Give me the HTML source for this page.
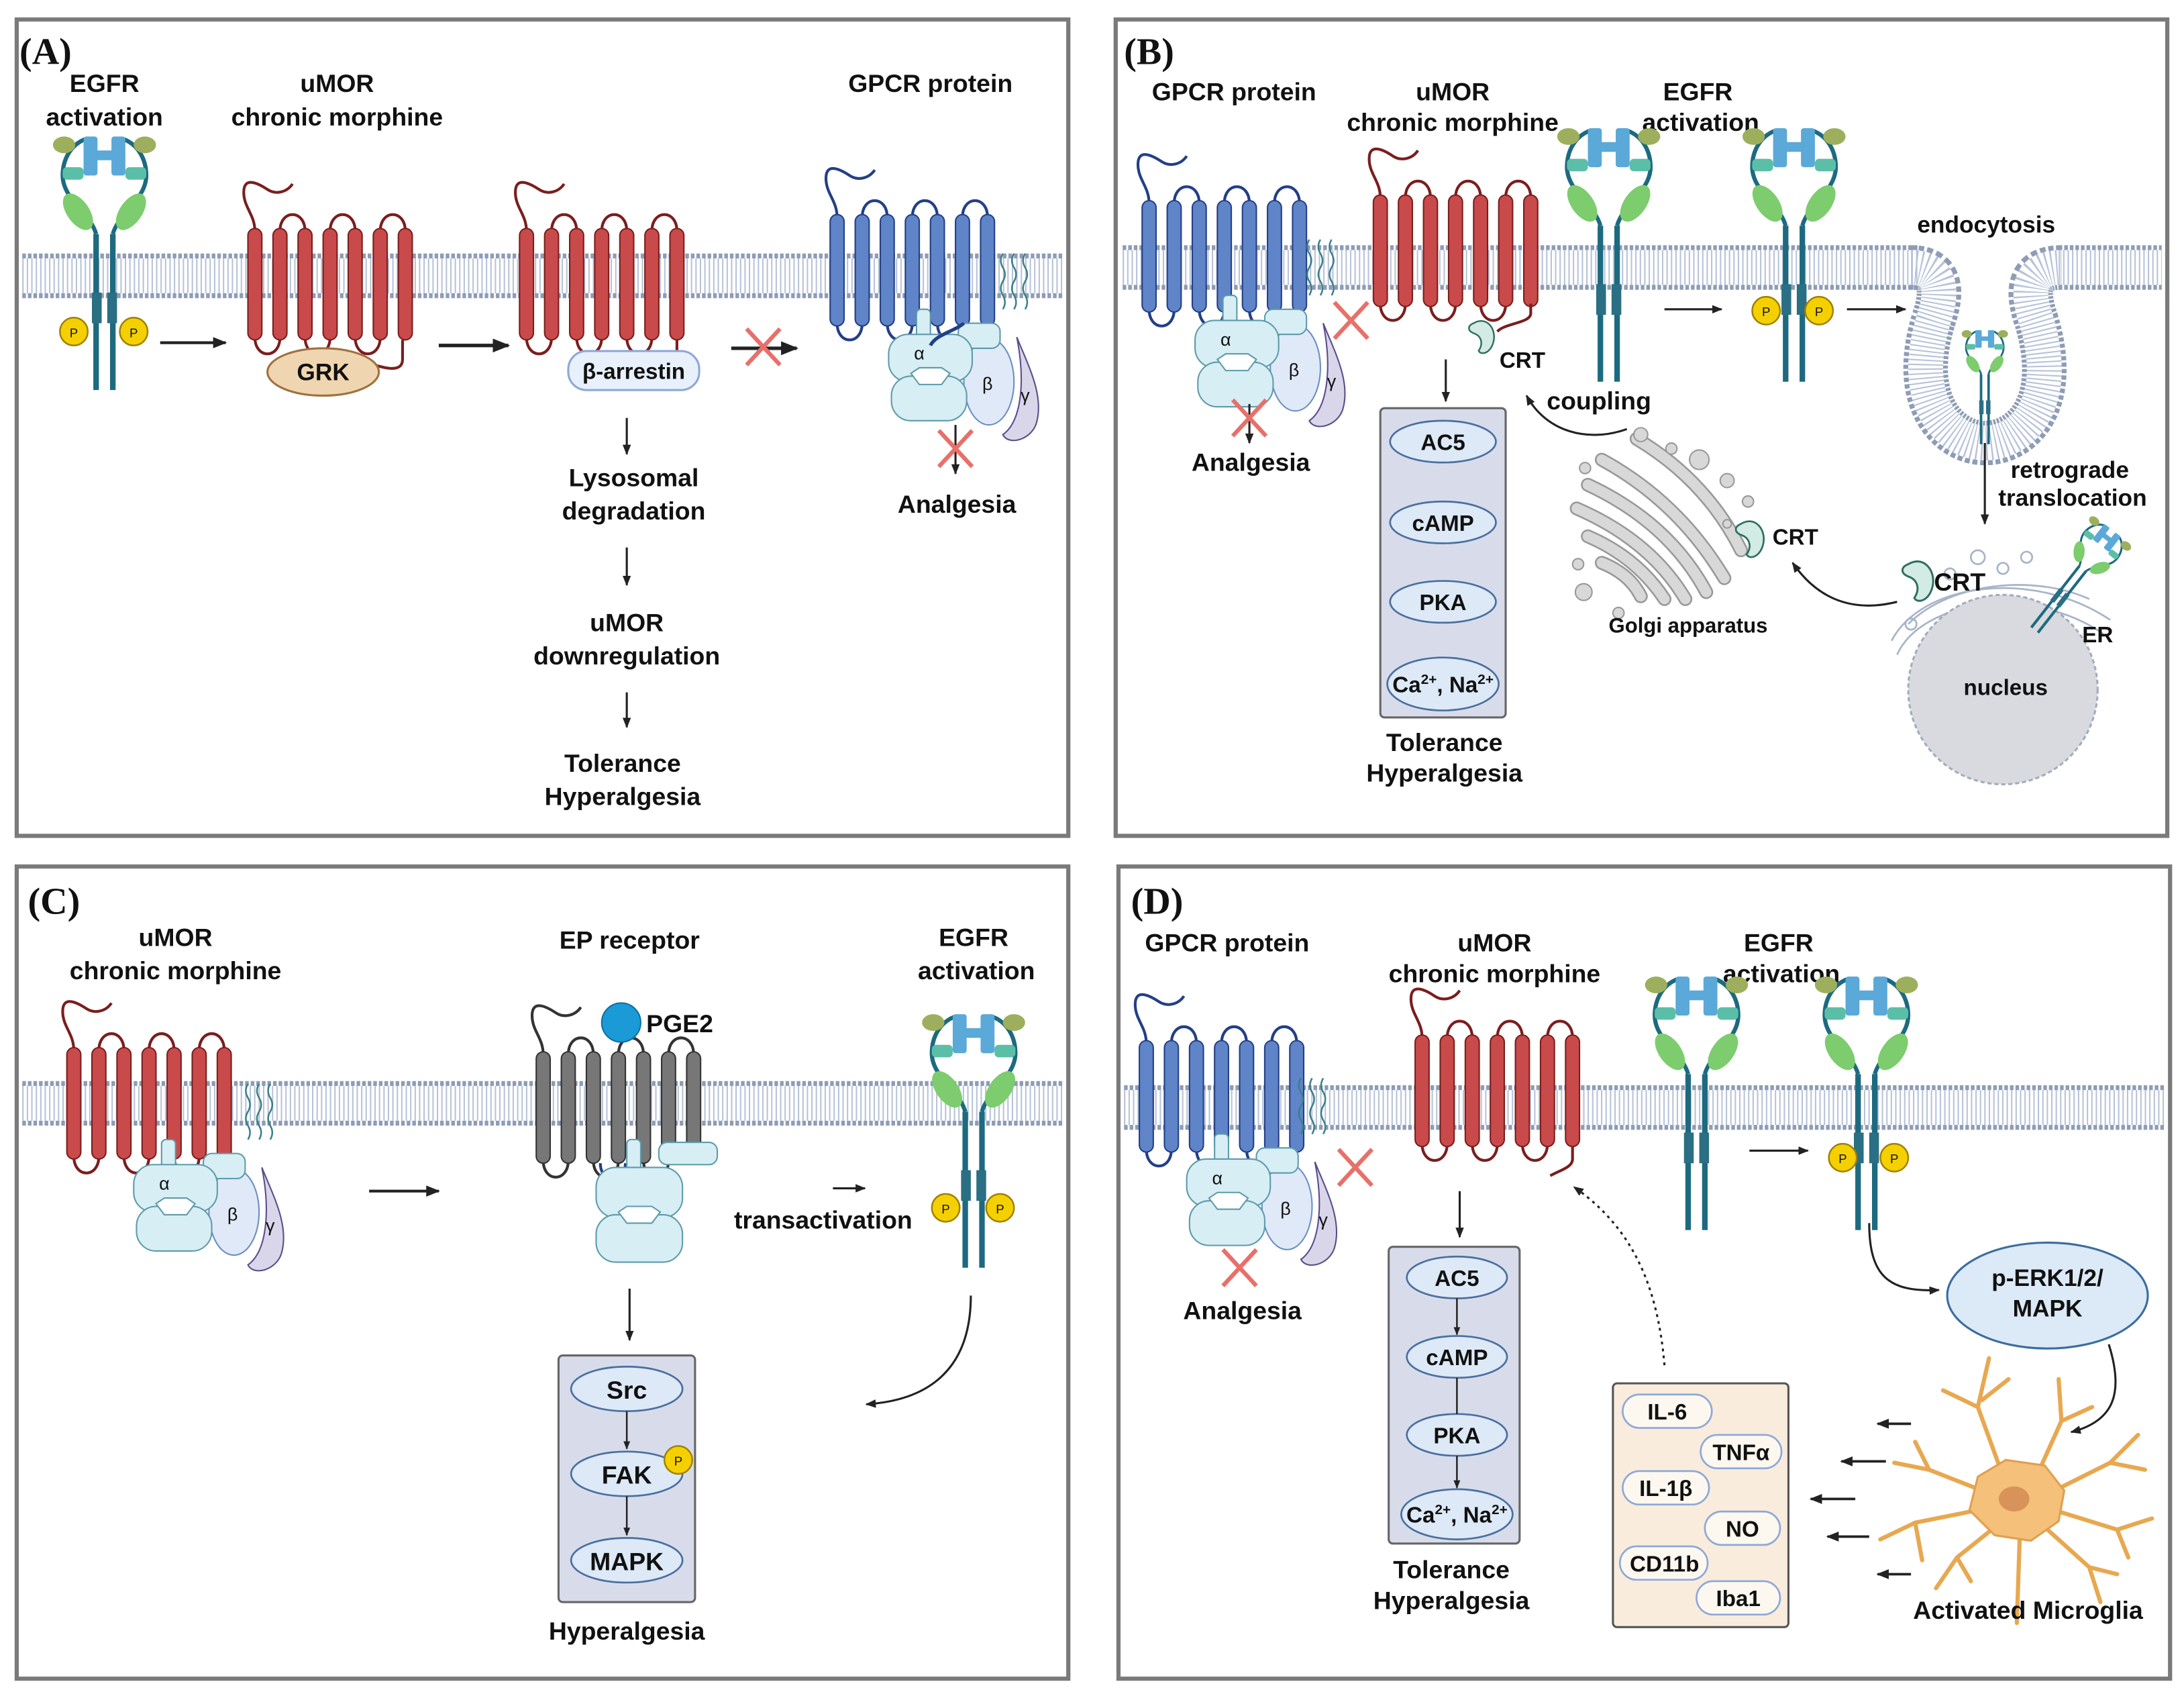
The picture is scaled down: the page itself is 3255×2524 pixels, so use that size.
<!DOCTYPE html>
<html><head><meta charset="utf-8"><style>
html,body{margin:0;padding:0;background:#fff}
svg{display:block}
.t{font-family:"Liberation Sans",sans-serif;font-weight:bold;font-size:18px;fill:#111;text-anchor:middle}
.s{font-family:"Liberation Sans",sans-serif;font-weight:bold;font-size:16px;fill:#111;text-anchor:middle}
.L{font-family:"Liberation Serif",serif;font-weight:bold;font-size:27px;fill:#111}
.g{font-family:"Liberation Sans",sans-serif;font-size:13px;fill:#111;text-anchor:middle}
</style></head><body>
<svg width="3255" height="2524" viewBox="0 0 1568 1216" preserveAspectRatio="none" xmlns="http://www.w3.org/2000/svg">
<defs>
<marker id="ah" viewBox="0 0 10 10" refX="9" refY="5" markerWidth="5" markerHeight="5" orient="auto"><path d="M0,1 L10,5 L0,9 Z" fill="#222"/></marker>
<g id="rc">
 <path fill="none" stroke-width="2" d="M5,-38 C5,-50 -3,-55 -3,-66 C-3,-78 8,-72 14,-68 C20,-64 28,-66 32,-72"/>
 <path fill="none" stroke-width="2" d="M23,-38 C23,-54 41,-54 41,-38 M59,-38 C59,-54 77,-54 77,-38 M95,-38 C95,-54 113,-54 113,-38 M5,38 C5,54 23,54 23,38 M41,38 C41,54 59,54 59,38 M77,38 C77,54 95,54 95,38"/>
 <rect x="0" y="-40" width="10" height="80" rx="5"/><rect x="18" y="-40" width="10" height="80" rx="5"/><rect x="36" y="-40" width="10" height="80" rx="5"/><rect x="54" y="-40" width="10" height="80" rx="5"/><rect x="72" y="-40" width="10" height="80" rx="5"/><rect x="90" y="-40" width="10" height="80" rx="5"/><rect x="108" y="-40" width="10" height="80" rx="5"/>
</g>
<g id="egfr">
 <path d="M-6,-30 L-6,82 M6,-30 L6,82" stroke="#1d6a80" stroke-width="4" fill="none"/>
 <path d="M-6,-30 C-10,-45 -30,-55 -30,-72 C-30,-84 -24,-94 -14,-98 M6,-30 C10,-45 30,-55 30,-72 C30,-84 24,-94 14,-98" stroke="#1d6a80" stroke-width="3" fill="none"/>
 <ellipse cx="-19" cy="-46" rx="8" ry="15" transform="rotate(-35 -19 -46)" fill="#7dcc6e"/>
 <ellipse cx="19" cy="-46" rx="8" ry="15" transform="rotate(35 19 -46)" fill="#7dcc6e"/>
 <rect x="-30" y="-78" width="15" height="9" rx="3" fill="#5bbfa8"/><rect x="15" y="-78" width="15" height="9" rx="3" fill="#5bbfa8"/>
 <rect x="-15" y="-100" width="10" height="28" rx="2" fill="#5aa9d8"/><rect x="5" y="-100" width="10" height="28" rx="2" fill="#5aa9d8"/><rect x="-6" y="-90" width="12" height="7" fill="#5aa9d8"/>
 <ellipse cx="-29" cy="-94" rx="8" ry="6" fill="#9daf5c"/><ellipse cx="29" cy="-94" rx="8" ry="6" fill="#9daf5c"/>
 <rect x="-9" y="12" width="7" height="22" fill="#2a6f83"/><rect x="2" y="12" width="7" height="22" fill="#2a6f83"/>
</g>
<g id="pp"><circle r="10" fill="#f5d000" stroke="#a08000" stroke-width="1.2"/><text y="4" class="g" style="font-size:9px">P</text></g>
<g id="gp">
 <path d="M82,0 q3,-5 0,-10 q-3,-5 0,-10 q3,-5 0,-10 q-3,-5 0,-10 M90,0 q3,-5 0,-10 q-3,-5 0,-10 q3,-5 0,-10 q-3,-5 0,-10 M98,0 q3,-5 0,-10 q-3,-5 0,-10 q3,-5 0,-10 q-3,-5 0,-10" stroke="#3a7f8a" stroke-width="1.2" fill="none"/>
 <path d="M92,20 C100,40 112,62 106,82 C102,94 86,98 82,90 C96,80 98,50 92,20Z" fill="#d9d6ea" stroke="#5a4d8a" stroke-width="1"/>
 <ellipse cx="72" cy="52" rx="18" ry="31" fill="#dfe9f8" stroke="#6a8fc0" stroke-width="1"/>
 <g fill="#d6eef4" stroke="#5f9aaa" stroke-width="1">
  <rect x="20" y="0" width="10" height="22" rx="3"/>
  <rect x="50" y="10" width="30" height="18" rx="6"/>
  <rect x="0" y="18" width="60" height="34" rx="14"/>
  <rect x="2" y="48" width="54" height="32" rx="14"/>
 </g>
 <path d="M16,46 L22,42 L38,42 L44,46 L38,54 L22,54Z" fill="#fff" stroke="#5f9aaa" stroke-width="1"/>
 <text x="22" y="36" class="g">α</text><text x="71" y="58" class="g">β</text><text x="98" y="66" class="g">γ</text>
</g>
<g id="rx"><path d="M-12,-13 L12,13 M12,-13 L-12,13" stroke="#e8706a" stroke-width="3"/></g>
<g id="crt"><path d="M0,0 C10,-6 18,4 16,14 C14,24 6,26 4,22 C8,16 6,10 0,8 C-5,6 -5,2 0,0Z" fill="#d2ebe4" stroke="#2f6f5f" stroke-width="1.3"/></g>
</defs>

<g fill="#fff" stroke="#7a7a7a" stroke-width="3">
<rect x="12" y="14" width="755" height="586"/>
<rect x="801" y="14" width="755" height="586"/>
<rect x="12" y="622" width="755" height="583"/>
<rect x="803" y="622" width="755" height="583"/>
</g>

<g fill="none">
<g stroke="#8e9cb5" stroke-width="32" stroke-dasharray="2.6 1.4">
 <path d="M16,198 H763"/><path d="M806,192 H1378 M1478,192 H1552"/><path d="M16,792 H763"/><path d="M807,795 H1554"/>
 <path d="M1372,192 C1395,192 1395,210 1388,230 C1370,290 1400,318 1425,318 C1452,318 1480,290 1462,230 C1455,210 1455,192 1480,192"/>
</g>
<g stroke="#fff" stroke-width="25">
 <path d="M16,198 H763"/><path d="M806,192 H1378 M1478,192 H1552"/><path d="M16,792 H763"/><path d="M807,795 H1554"/>
 <path d="M1372,192 C1395,192 1395,210 1388,230 C1370,290 1400,318 1425,318 C1452,318 1480,290 1462,230 C1455,210 1455,192 1480,192"/>
</g>
<g stroke="#b8c3d8" stroke-width="25" stroke-dasharray="1 2.2">
 <path d="M16,198 H763"/><path d="M806,192 H1378 M1478,192 H1552"/><path d="M16,792 H763"/><path d="M807,795 H1554"/>
 <path d="M1372,192 C1395,192 1395,210 1388,230 C1370,290 1400,318 1425,318 C1452,318 1480,290 1462,230 C1455,210 1455,192 1480,192"/>
</g>
</g>

<!-- A -->
<text x="14" y="46" class="L">(A)</text>
<text x="75" y="66" class="t">EGFR</text><text x="75" y="90" class="t">activation</text>
<text x="242" y="66" class="t">uMOR</text><text x="242" y="90" class="t">chronic morphine</text>
<text x="668" y="66" class="t">GPCR protein</text>
<use href="#egfr" transform="translate(75,198)"/>
<use href="#pp" x="53" y="238"/><use href="#pp" x="96" y="238"/>
<line x1="115" y1="246" x2="162" y2="246" stroke="#222" stroke-width="2" marker-end="url(#ah)"/>
<use href="#rc" transform="translate(178,204)" fill="#c94a4a" stroke="#7a1e1e"/>
<path d="M289,244 L289,258 C289,270 270,262 262,260" fill="none" stroke="#7a1e1e" stroke-width="2"/>
<ellipse cx="232" cy="267" rx="40" ry="17" fill="#f0d6b0" stroke="#a07040" stroke-width="1.5"/>
<text x="232" y="273" class="t" style="font-size:17px">GRK</text>
<line x1="315" y1="248" x2="365" y2="248" stroke="#222" stroke-width="2.5" marker-end="url(#ah)"/>
<use href="#rc" transform="translate(373,204)" fill="#c94a4a" stroke="#7a1e1e"/>
<path d="M486,244 L486,252" stroke="#7a1e1e" stroke-width="2"/>
<rect x="408" y="252" width="94" height="28" rx="13" fill="#e8f0fb" stroke="#8fa8d8" stroke-width="1.5"/>
<text x="455" y="272" class="t" style="font-size:16px">β-arrestin</text>
<line x1="525" y1="250" x2="572" y2="250" stroke="#222" stroke-width="2.5" marker-end="url(#ah)"/>
<use href="#rx" x="548" y="249"/>
<line x1="450" y1="300" x2="450" y2="326" stroke="#222" stroke-width="1.5" marker-end="url(#ah)"/>
<text x="455" y="349" class="t">Lysosomal</text><text x="455" y="373" class="t">degradation</text>
<line x1="450" y1="393" x2="450" y2="420" stroke="#222" stroke-width="1.5" marker-end="url(#ah)"/>
<text x="450" y="453" class="t">uMOR</text><text x="450" y="477" class="t">downregulation</text>
<line x1="450" y1="497" x2="450" y2="522" stroke="#222" stroke-width="1.5" marker-end="url(#ah)"/>
<text x="447" y="554" class="t">Tolerance</text><text x="447" y="578" class="t">Hyperalgesia</text>
<use href="#rc" transform="translate(596,194)" fill="#5f84c8" stroke="#233f86"/>
<use href="#gp" transform="translate(638,222)"/>
<path d="M668,248 C672,240 685,238 692,232" stroke="#233f86" stroke-width="2.5" fill="none"/>
<line x1="686" y1="305" x2="686" y2="340" stroke="#222" stroke-width="1.5" marker-end="url(#ah)"/>
<use href="#rx" x="686" y="322"/>
<text x="687" y="368" class="t">Analgesia</text>

<!-- B -->
<text x="807" y="46" class="L">(B)</text>
<text x="886" y="72" class="t">GPCR protein</text>
<text x="1043" y="72" class="t">uMOR</text><text x="1043" y="94" class="t">chronic morphine</text>
<text x="1219" y="72" class="t">EGFR</text><text x="1221" y="94" class="t">activation</text>
<use href="#rc" transform="translate(820,184)" fill="#5f84c8" stroke="#233f86"/>
<use href="#gp" transform="translate(858,212)"/>
<use href="#rx" x="970" y="230"/>
<line x1="897" y1="290" x2="897" y2="318" stroke="#222" stroke-width="1.5" marker-end="url(#ah)"/>
<use href="#rx" x="897" y="300"/>
<text x="898" y="338" class="t">Analgesia</text>
<use href="#rc" transform="translate(986,180)" fill="#c94a4a" stroke="#7a1e1e"/>
<path d="M1099,218 L1099,225 C1099,232 1080,232 1075,238" stroke="#7a1e1e" stroke-width="2" fill="none"/>
<use href="#crt" transform="translate(1058,232) scale(0.9)"/>
<text x="1093" y="264" class="s">CRT</text>
<line x1="1038" y1="258" x2="1038" y2="288" stroke="#222" stroke-width="1.5" marker-end="url(#ah)"/>
<rect x="991" y="293" width="90" height="222" rx="3" fill="#d8dcea" stroke="#666" stroke-width="1.5"/>
<g fill="#dde9f6" stroke="#4a6fa0" stroke-width="1.3">
<ellipse cx="1036" cy="317" rx="38" ry="15"/><ellipse cx="1036" cy="375" rx="38" ry="15"/><ellipse cx="1036" cy="432" rx="38" ry="15"/><ellipse cx="1036" cy="491" rx="40" ry="19"/>
</g>
<text x="1036" y="323" class="s">AC5</text><text x="1036" y="381" class="s">cAMP</text><text x="1036" y="438" class="s">PKA</text>
<text x="1036" y="497" class="s">Ca<tspan dy="-6" style="font-size:10px">2+</tspan><tspan dy="6">, Na</tspan><tspan dy="-6" style="font-size:10px">2+</tspan></text>
<text x="1037" y="539" class="t">Tolerance</text><text x="1037" y="561" class="t">Hyperalgesia</text>
<text x="1148" y="294" class="t">coupling</text>
<path d="M1168,308 C1140,318 1110,310 1096,284" stroke="#222" stroke-width="1.5" fill="none" marker-end="url(#ah)"/>
<use href="#egfr" transform="translate(1155,192)"/>
<line x1="1195" y1="222" x2="1236" y2="222" stroke="#222" stroke-width="1.5" marker-end="url(#ah)"/>
<use href="#egfr" transform="translate(1288,192)"/>
<use href="#pp" x="1268" y="223"/><use href="#pp" x="1306" y="223"/>
<line x1="1326" y1="222" x2="1368" y2="222" stroke="#222" stroke-width="1.5" marker-end="url(#ah)"/>
<text x="1426" y="167" class="t" style="font-size:17px">endocytosis</text>
<use href="#egfr" transform="translate(1425,282) scale(0.45)"/>
<line x1="1425" y1="318" x2="1425" y2="376" stroke="#222" stroke-width="1.5" marker-end="url(#ah)"/>
<text x="1486" y="343" class="t" style="font-size:17px">retrograde</text><text x="1488" y="363" class="t" style="font-size:17px">translocation</text>
<g fill="none" stroke-linecap="round">
<g stroke="#999" stroke-width="10">
<path d="M1150,330 Q1205,360 1238,415"/><path d="M1140,348 Q1198,375 1225,425"/><path d="M1132,365 Q1185,388 1210,430"/><path d="M1140,385 Q1175,400 1195,430"/><path d="M1150,404 Q1170,412 1178,428"/><path d="M1175,315 Q1225,345 1250,395"/>
</g>
<g stroke="#d8d8d8" stroke-width="7.5">
<path d="M1150,330 Q1205,360 1238,415"/><path d="M1140,348 Q1198,375 1225,425"/><path d="M1132,365 Q1185,388 1210,430"/><path d="M1140,385 Q1175,400 1195,430"/><path d="M1150,404 Q1170,412 1178,428"/><path d="M1175,315 Q1225,345 1250,395"/>
</g>
</g>
<g fill="#d8d8d8" stroke="#999" stroke-width="1">
<circle cx="1178" cy="312" r="5"/><circle cx="1200" cy="322" r="4"/><circle cx="1220" cy="330" r="7"/><circle cx="1240" cy="345" r="5"/><circle cx="1255" cy="360" r="4"/><circle cx="1138" cy="336" r="4"/><circle cx="1133" cy="405" r="4"/><circle cx="1137" cy="425" r="6"/><circle cx="1162" cy="440" r="4"/><circle cx="1240" cy="376" r="3"/>
</g>
<use href="#crt" transform="translate(1250,376)"/>
<text x="1289" y="391" class="s">CRT</text>
<text x="1212" y="454" class="t" style="font-size:15px">Golgi apparatus</text>
<path d="M1362,432 C1330,440 1305,430 1287,404" stroke="#222" stroke-width="1.5" fill="none" marker-end="url(#ah)"/>
<g fill="none" stroke="#a8b4c8" stroke-width="1.3">
<path d="M1362,470 C1380,430 1460,420 1510,455"/><path d="M1358,460 C1380,418 1460,408 1515,445"/><path d="M1370,448 C1400,418 1460,412 1500,430"/>
<circle cx="1372" cy="448" r="4"/><circle cx="1400" cy="412" r="4"/><circle cx="1420" cy="400" r="5"/><circle cx="1438" cy="408" r="4"/><circle cx="1455" cy="400" r="4"/>
</g>
<circle cx="1438" cy="495" r="68" fill="#d9dadf" stroke="#a4acbc" stroke-width="1.5" stroke-dasharray="3 2"/>
<text x="1440" y="499" class="s">nucleus</text>
<use href="#crt" transform="translate(1370,405) scale(1.1)"/>
<text x="1407" y="424" class="t">CRT</text>
<g transform="translate(1486,420) rotate(38) scale(0.5)"><use href="#egfr"/></g>
<text x="1506" y="461" class="s">ER</text>

<!-- C -->
<text x="20" y="656" class="L">(C)</text>
<text x="126" y="679" class="t">uMOR</text><text x="126" y="703" class="t">chronic morphine</text>
<text x="452" y="681" class="t">EP receptor</text>
<text x="699" y="679" class="t">EGFR</text><text x="701" y="703" class="t">activation</text>
<use href="#rc" transform="translate(48,792)" fill="#c94a4a" stroke="#7a1e1e"/>
<use href="#gp" transform="translate(96,818) scale(1.0)"/>
<line x1="265" y1="855" x2="315" y2="855" stroke="#222" stroke-width="2" marker-end="url(#ah)"/>
<use href="#rc" transform="translate(385,795)" fill="#777" stroke="#333"/>
<path d="M431,835 C431,850 449,850 449,835" stroke="#233f86" stroke-width="2" fill="none"/>
<circle cx="446" cy="734" r="14" fill="#1a9ad6" stroke="#1070a0"/>
<text x="488" y="741" class="t">PGE2</text>
<g transform="translate(428,820)" fill="#d6eef4" stroke="#5f9aaa" stroke-width="1">
<rect x="22" y="-2" width="10" height="24" rx="3"/><rect x="45" y="0" width="42" height="16" rx="6"/>
<rect x="0" y="18" width="62" height="36" rx="14"/><rect x="0" y="52" width="62" height="34" rx="14"/>
<path d="M16,50 L22,46 L40,46 L46,50 L40,58 L22,58Z" fill="#fff"/>
</g>
<text x="591" y="882" class="t">transactivation</text>
<line x1="598" y1="853" x2="621" y2="853" stroke="#222" stroke-width="1.5" marker-end="url(#ah)"/>
<use href="#egfr" transform="translate(699,828)"/>
<use href="#pp" x="679" y="867"/><use href="#pp" x="718" y="867"/>
<path d="M697,930 C697,980 670,1005 622,1008" stroke="#222" stroke-width="1.5" fill="none" marker-end="url(#ah)"/>
<line x1="452" y1="925" x2="452" y2="962" stroke="#222" stroke-width="1.5" marker-end="url(#ah)"/>
<rect x="401" y="973" width="98" height="177" rx="3" fill="#d8dcea" stroke="#666" stroke-width="1.5"/>
<g fill="#dde9f6" stroke="#4a6fa0" stroke-width="1.3">
<ellipse cx="450" cy="997" rx="40" ry="16"/><ellipse cx="450" cy="1058" rx="40" ry="16"/><ellipse cx="450" cy="1120" rx="40" ry="16"/>
</g>
<line x1="450" y1="1013" x2="450" y2="1040" stroke="#222" stroke-width="1.2" marker-end="url(#ah)"/>
<line x1="450" y1="1074" x2="450" y2="1102" stroke="#222" stroke-width="1.2" marker-end="url(#ah)"/>
<text x="450" y="1004" class="t">Src</text><text x="450" y="1065" class="t">FAK</text><text x="450" y="1127" class="t">MAPK</text>
<use href="#pp" x="487" y="1048"/>
<text x="450" y="1177" class="t">Hyperalgesia</text>

<!-- D -->
<text x="812" y="656" class="L">(D)</text>
<text x="881" y="683" class="t">GPCR protein</text>
<text x="1073" y="683" class="t">uMOR</text><text x="1073" y="705" class="t">chronic morphine</text>
<text x="1277" y="683" class="t">EGFR</text><text x="1279" y="705" class="t">activation</text>
<use href="#rc" transform="translate(818,787)" fill="#5f84c8" stroke="#233f86"/>
<use href="#gp" transform="translate(852,814)"/>
<use href="#rx" x="973" y="838"/>
<use href="#rx" x="890" y="910"/>
<text x="892" y="947" class="t">Analgesia</text>
<use href="#rc" transform="translate(1016,783)" fill="#c94a4a" stroke="#7a1e1e"/>
<path d="M1129,823 L1129,832 C1129,838 1120,840 1113,844" stroke="#7a1e1e" stroke-width="2" fill="none"/>
<line x1="1048" y1="855" x2="1048" y2="888" stroke="#222" stroke-width="1.5" marker-end="url(#ah)"/>
<rect x="997" y="895" width="94" height="213" rx="3" fill="#d8dcea" stroke="#666" stroke-width="1.5"/>
<g fill="#dde9f6" stroke="#4a6fa0" stroke-width="1.3">
<ellipse cx="1046" cy="917" rx="36" ry="15"/><ellipse cx="1046" cy="974" rx="36" ry="15"/><ellipse cx="1046" cy="1030" rx="36" ry="15"/><ellipse cx="1046" cy="1087" rx="40" ry="18"/>
</g>
<line x1="1046" y1="932" x2="1046" y2="958" stroke="#222" stroke-width="1.2" marker-end="url(#ah)"/>
<line x1="1046" y1="989" x2="1046" y2="1015" stroke="#222" stroke-width="1.2"/>
<line x1="1046" y1="1045" x2="1046" y2="1068" stroke="#222" stroke-width="1.2" marker-end="url(#ah)"/>
<text x="1046" y="923" class="s">AC5</text><text x="1046" y="980" class="s">cAMP</text><text x="1046" y="1036" class="s">PKA</text>
<text x="1046" y="1093" class="s">Ca<tspan dy="-6" style="font-size:10px">2+</tspan><tspan dy="6">, Na</tspan><tspan dy="-6" style="font-size:10px">2+</tspan></text>
<text x="1042" y="1133" class="t">Tolerance</text><text x="1042" y="1155" class="t">Hyperalgesia</text>
<use href="#egfr" transform="translate(1218,801)"/>
<line x1="1256" y1="826" x2="1298" y2="826" stroke="#222" stroke-width="1.5" marker-end="url(#ah)"/>
<use href="#egfr" transform="translate(1340,801)"/>
<use href="#pp" x="1323" y="831"/><use href="#pp" x="1360" y="831"/>
<path d="M1342,878 C1342,915 1355,928 1392,926" stroke="#222" stroke-width="1.5" fill="none" marker-end="url(#ah)"/>
<ellipse cx="1470" cy="930" rx="72" ry="38" fill="#dce9f6" stroke="#3b6d9e" stroke-width="1.5"/>
<text x="1470" y="923" class="t" style="font-size:17px">p-ERK1/2/</text><text x="1470" y="945" class="t" style="font-size:17px">MAPK</text>
<path d="M1514,965 C1525,1000 1518,1020 1487,1028" stroke="#222" stroke-width="1.5" fill="none" marker-end="url(#ah)"/>
<g stroke="#e8a850" stroke-width="3" fill="none" stroke-linecap="round">
<path d="M1440,1065 L1420,1010 L1428,975 M1420,1010 L1395,998 M1423,1005 L1442,990"/>
<path d="M1462,1060 L1480,1020 L1478,990 M1480,1020 L1502,1010"/>
<path d="M1475,1070 L1515,1050 L1535,1030 M1515,1050 L1540,1055"/>
<path d="M1478,1085 L1520,1098 L1545,1090 M1520,1098 L1528,1118"/>
<path d="M1470,1098 L1500,1125 L1508,1150 M1500,1125 L1520,1130"/>
<path d="M1450,1105 L1448,1165"/>
<path d="M1430,1098 L1405,1118 L1390,1140 M1405,1118 L1415,1135"/>
<path d="M1415,1085 L1375,1093 L1350,1105 M1375,1093 L1380,1120"/>
<path d="M1418,1068 L1385,1055 L1360,1050 M1385,1055 L1375,1035"/>
</g>
<path d="M1420,1060 L1440,1048 L1468,1052 L1482,1070 L1478,1092 L1458,1106 L1432,1102 L1414,1084Z" fill="#f4c07a" stroke="#e0a050" stroke-width="1.5"/>
<ellipse cx="1446" cy="1076" rx="11" ry="9" fill="#d8935a"/>
<text x="1456" y="1162" class="t">Activated Microglia</text>
<g stroke="#222" stroke-width="1.8" marker-end="url(#ah)">
<line x1="1372" y1="1022" x2="1348" y2="1022"/><line x1="1354" y1="1049" x2="1322" y2="1049"/><line x1="1332" y1="1076" x2="1300" y2="1076"/><line x1="1342" y1="1103" x2="1312" y2="1103"/><line x1="1372" y1="1130" x2="1348" y2="1130"/>
</g>
<rect x="1158" y="993" width="126" height="175" rx="3" fill="#f9ecdc" stroke="#555" stroke-width="1.5"/>
<g fill="#fdf8ef" stroke="#8ea8d8" stroke-width="1.3">
<rect x="1165" y="1001" width="64" height="24" rx="12"/><rect x="1221" y="1030" width="58" height="24" rx="12"/>
<rect x="1165" y="1056" width="62" height="24" rx="12"/><rect x="1224" y="1085" width="54" height="24" rx="12"/>
<rect x="1163" y="1110" width="63" height="24" rx="12"/><rect x="1218" y="1135" width="60" height="24" rx="12"/>
</g>
<text x="1197" y="1019" class="s">IL-6</text><text x="1250" y="1048" class="s">TNFα</text><text x="1196" y="1074" class="s">IL-1β</text>
<text x="1251" y="1103" class="s">NO</text><text x="1195" y="1128" class="s">CD11b</text><text x="1248" y="1153" class="s">Iba1</text>
<path d="M1195,980 C1190,920 1170,880 1130,852" stroke="#222" stroke-width="1.5" stroke-dasharray="2 3" fill="none" marker-end="url(#ah)"/>
</svg>
</body></html>
